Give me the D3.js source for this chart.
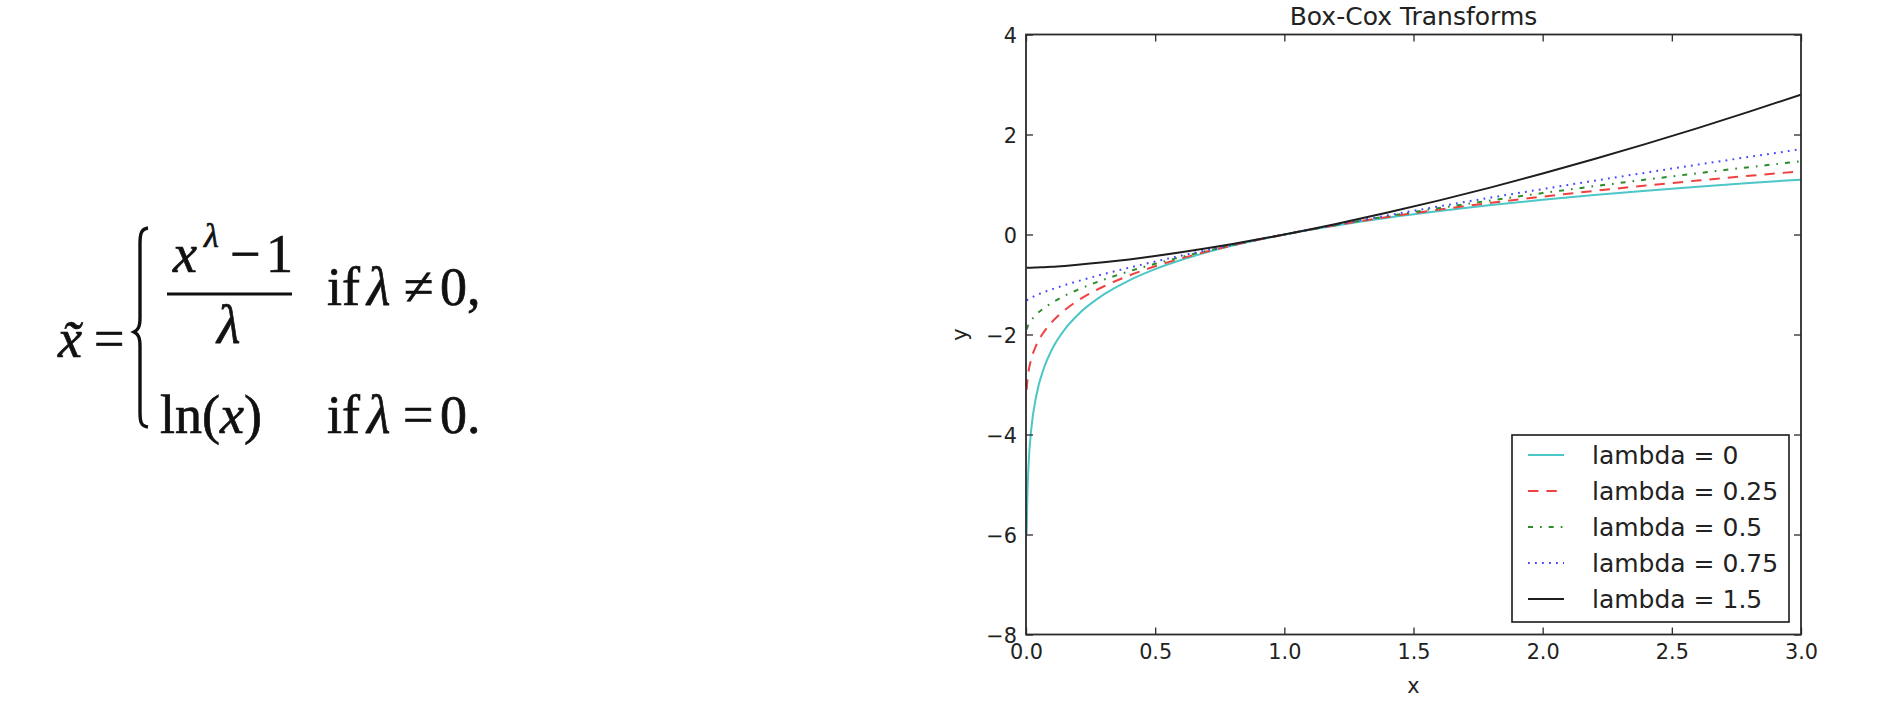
<!DOCTYPE html>
<html><head><meta charset="utf-8">
<script src="https://cdn.jsdelivr.net/npm/d3@7"></script>
<style>
html,body{margin:0;padding:0;background:#fff;}
svg text{font-family:"DejaVu Sans",sans-serif;}
.m{font-family:"Liberation Serif","DejaVu Serif",serif;fill:#111;stroke:#111;stroke-width:0.7px;}
.i{font-style:italic;}
</style></head>
<body>
<svg id="c" width="1878" height="704"></svg>
<script>
// ---- data ----
const xs = [0.0025,0.005,0.01,0.02,0.04,0.07,0.1,0.15,0.2,0.3,0.4,0.5,0.6,0.7,0.8,0.9,1.0,1.2,1.4,1.6,1.8,2.0,2.2,2.4,2.6,2.8,3.0];
const yLam0   = [-5.991,-5.298,-4.605,-3.912,-3.219,-2.659,-2.303,-1.897,-1.609,-1.204,-0.916,-0.693,-0.511,-0.357,-0.223,-0.105,0,0.182,0.336,0.470,0.588,0.693,0.788,0.875,0.956,1.030,1.099];
const yLam025 = [-3.106,-2.936,-2.735,-2.496,-2.211,-1.943,-1.751,-1.511,-1.325,-1.040,-0.819,-0.636,-0.480,-0.341,-0.217,-0.104,0,0.187,0.351,0.499,0.633,0.757,0.872,0.979,1.080,1.174,1.264];
const yLam05  = [-1.900,-1.859,-1.800,-1.717,-1.600,-1.471,-1.368,-1.225,-1.106,-0.905,-0.735,-0.586,-0.451,-0.327,-0.211,-0.103,0,0.191,0.366,0.530,0.683,0.828,0.966,1.098,1.225,1.347,1.464];
const yLam075 = [-1.318,-1.308,-1.291,-1.262,-1.214,-1.152,-1.096,-1.012,-0.935,-0.793,-0.663,-0.541,-0.424,-0.313,-0.205,-0.101,0,0.195,0.383,0.563,0.739,0.909,1.075,1.238,1.397,1.553,1.706];
const yLam15  = [-0.667,-0.666,-0.666,-0.665,-0.661,-0.654,-0.646,-0.628,-0.607,-0.557,-0.498,-0.431,-0.357,-0.276,-0.190,-0.097,0,0.210,0.438,0.683,0.943,1.219,1.509,1.812,2.128,2.457,2.797];
const seriesNames = ["lambda = 0","lambda = 0.25","lambda = 0.5","lambda = 0.75","lambda = 1.5"];
const xTicks = [0,0.5,1.0,1.5,2.0,2.5,3.0];
const yTicks = [4,2,0,-2,-4,-6,-8];
const titleText = "Box-Cox Transforms";

const seriesY = [yLam0,yLam025,yLam05,yLam075,yLam15];
const colors = ["#4cc6c6","#f04040","#2a8c2a","#4646ff","#1e1e1e"];
const dashes = [null,"10.4,8","5,7,1.7,7","1.8,5.2",null];

const svg = d3.select("#c");
svg.append("rect").attr("width",1878).attr("height",704).attr("fill","#fff");

// ---- formula ----
const F = svg.append("g");
const fs = 54;
function t(x,y,s,opt={}){
  const e=F.append("text").attr("class","m"+(opt.it?" i":"")).attr("x",x).attr("y",y)
    .attr("font-size",opt.size||fs).text(s);
  if(opt.anchor) e.attr("text-anchor",opt.anchor);
  return e;
}
t(58,357,"x\u0303",{it:true});
t(94,357,"=");
F.append("path").attr("d","M148,228 C141,229 140,234 140,244 L140,318 C140,327 138,330 134,332 C138,334 140,337 140,346 L140,412 C140,422 141,426 148,427")
  .attr("fill","none").attr("stroke","#111").attr("stroke-width",3.4);
const num = F.append("text").attr("class","m").attr("font-size",fs).attr("y",272);
num.append("tspan").attr("class","i").attr("x",173).text("x");
num.append("tspan").attr("class","i").attr("x",204).attr("y",247).attr("font-size",34).text("λ");
num.append("tspan").attr("x",230).attr("y",272).text("−");
num.append("tspan").attr("x",266).text("1");
F.append("line").attr("x1",167).attr("x2",292).attr("y1",294).attr("y2",294).attr("stroke","#111").attr("stroke-width",2.8);
t(217,343,"λ",{it:true});
const r1 = F.append("text").attr("class","m").attr("font-size",fs).attr("y",305);
r1.append("tspan").attr("x",327).text("if");
r1.append("tspan").attr("class","i").attr("x",367).text("λ");
r1.append("tspan").attr("x",404).text("≠");
r1.append("tspan").attr("x",440).text("0,");
const ln = F.append("text").attr("class","m").attr("font-size",fs).attr("x",160).attr("y",433);
ln.append("tspan").text("ln(");
ln.append("tspan").attr("class","i").text("x");
ln.append("tspan").text(")");
const r2 = F.append("text").attr("class","m").attr("font-size",fs).attr("y",433);
r2.append("tspan").attr("x",327).text("if");
r2.append("tspan").attr("class","i").attr("x",367).text("λ");
r2.append("tspan").attr("x",403).text("=");
r2.append("tspan").attr("x",440).text("0.");

// ---- chart ----
const L=1026,R=1801,T=34.5,B=634.5;
const x = d3.scaleLinear().domain([0,3]).range([L,R]);
const y = d3.scaleLinear().domain([-8,4]).range([B,T]);
const axisCol="#2b2b2b";

svg.append("defs").append("clipPath").attr("id","clip").append("rect")
  .attr("x",L).attr("y",T).attr("width",R-L).attr("height",B-T);

const line = d3.line().x((d,i)=>x(xs[i])).y(d=>y(d)).curve(d3.curveMonotoneX);
const G = svg.append("g").attr("clip-path","url(#clip)");
seriesY.forEach((ys,k)=>{
  G.append("path").attr("d",line(ys)).attr("fill","none")
    .attr("stroke",colors[k]).attr("stroke-width",2)
    .attr("stroke-dasharray",dashes[k]);
});

// ticks (inside, all four sides) via d3 axes
const tickLen=7;
const fmtX = d3.format(".1f");
const fmtY = d=> (d<0?"−":"")+Math.abs(d);
const axB = svg.append("g").attr("transform",`translate(0,${B})`)
  .call(d3.axisBottom(x).tickValues(xTicks).tickSize(-tickLen).tickPadding(10).tickFormat(fmtX));
const axT = svg.append("g").attr("transform",`translate(0,${T})`)
  .call(d3.axisTop(x).tickValues(xTicks).tickSize(-tickLen).tickFormat(""));
const axL = svg.append("g").attr("transform",`translate(${L},0)`)
  .call(d3.axisLeft(y).tickValues(yTicks).tickSize(-tickLen).tickPadding(9).tickFormat(fmtY));
const axR = svg.append("g").attr("transform",`translate(${R},0)`)
  .call(d3.axisRight(y).tickValues(yTicks).tickSize(-tickLen).tickFormat(""));
[axB,axT,axL,axR].forEach(a=>{
  a.select(".domain").remove();
  a.selectAll(".tick line").attr("stroke",axisCol).attr("stroke-width",1.3);
  a.selectAll("text").attr("font-family","DejaVu Sans").attr("font-size",20.8).attr("fill","#222");
});
axB.selectAll(".tick text").attr("dy","0.71em");
axL.selectAll(".tick text").attr("dy","0.36em");

svg.append("rect").attr("x",L).attr("y",T).attr("width",R-L).attr("height",B-T)
  .attr("fill","none").attr("stroke",axisCol).attr("stroke-width",1.8);

// title & labels
svg.append("text").attr("x",(L+R)/2).attr("y",25).attr("text-anchor","middle")
  .attr("font-size",25).attr("fill","#222").text(titleText);
svg.append("text").attr("x",(L+R)/2).attr("y",693).attr("text-anchor","middle")
  .attr("font-size",20.8).attr("fill","#222").text("x");
svg.append("text").attr("transform",`translate(966.5,${(T+B)/2}) rotate(-90)`).attr("text-anchor","middle")
  .attr("font-size",20.8).attr("fill","#222").text("y");

// legend
const lg = svg.append("g");
lg.append("rect").attr("x",1512).attr("y",435).attr("width",277).attr("height",187)
  .attr("fill","#fff").attr("stroke","#1a1a1a").attr("stroke-width",1.6);
const rowY = d3.scalePoint().domain(d3.range(seriesNames.length)).range([455,599]);
seriesNames.forEach((nm,k)=>{
  const yy=rowY(k);
  lg.append("line").attr("x1",1528).attr("x2",1564).attr("y1",yy).attr("y2",yy)
    .attr("stroke",colors[k]).attr("stroke-width",2).attr("stroke-dasharray",dashes[k]);
  lg.append("text").attr("x",1592).attr("y",yy+8.8).attr("font-size",25).attr("fill","#222").text(nm);
});
</script>
</body></html>
